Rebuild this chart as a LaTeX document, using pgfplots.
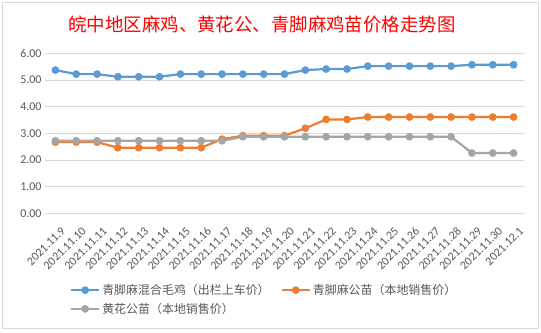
\documentclass[border=0pt]{standalone}
\usepackage{pgfplots}
\pgfplotsset{compat=1.18}
\usepackage{fontspec}
\setmainfont{Carlito}
\newfontfamily\cjk{Noto Sans CJK SC}
\definecolor{cblue}{HTML}{5B9BD5}
\definecolor{corange}{HTML}{ED7D31}
\definecolor{cgray}{HTML}{A5A5A5}
\definecolor{cgrid}{HTML}{D9D9D9}
\definecolor{ctext}{HTML}{595959}
\begin{document}
\begin{tikzpicture}
\path[use as bounding box] (0,0) rectangle (541bp,333bp);
\fill[white] (0,0) rectangle (541bp,333bp);
\draw[cgrid, line width=0.8pt] (2.5bp,4.5bp) rectangle (538.5bp,331bp);
\node[text=red, font=\cjk\fontsize{18.5}{20}\selectfont] at (262bp,308bp) {皖中地区麻鸡、黄花公、青脚麻鸡苗价格走势图};
\begin{axis}[
  at={(45bp,119.7bp)}, anchor=south west,
  scale only axis, width=479bp, height=160bp,
  xmin=-0.5, xmax=22.5, ymin=0, ymax=6,
  axis line style={draw=none},
  major tick length=0pt,
  ytick={0,1,2,3,4,5,6},
  ymajorgrids, grid style={cgrid, line width=0.8pt},
  xtick={0,...,22},
  xticklabels={2021.11.9,2021.11.10,2021.11.11,2021.11.12,2021.11.13,2021.11.14,2021.11.15,2021.11.16,2021.11.17,2021.11.18,2021.11.19,2021.11.20,2021.11.21,2021.11.22,2021.11.23,2021.11.24,2021.11.25,2021.11.26,2021.11.27,2021.11.28,2021.11.29,2021.11.30,2021.12.1},
  xticklabel style={xshift=5bp, yshift=-12bp, rotate=45, anchor=north east, inner sep=0.5pt},
  yticklabel style={/pgf/number format/fixed, /pgf/number format/precision=2, /pgf/number format/fixed zerofill},
  /pgf/number format/assume math mode=true,
  tick label style={font=\fontsize{12}{13}\selectfont, text=ctext},
  clip=false,
  legend columns=2,
  legend cell align=left,
  legend style={at={(0.052,-0.43)}, anchor=north west, draw=none, fill=none, inner sep=0pt,
    font=\cjk\fontsize{12}{14}\selectfont, text=ctext,
    /tikz/every even column/.append style={column sep=9bp},
    row sep=3bp},
  legend image code/.code={\draw[mark repeat=2,mark phase=2,#1] plot coordinates {(0bp,0bp) (14bp,0bp) (28bp,0bp)};},
  every axis plot/.append style={line width=2.2pt, mark=*, mark size=3.6pt},
]
\addplot[cblue, mark options={fill=cblue, draw=cblue, line width=0.5pt}] coordinates {
(0,5.37)(1,5.22)(2,5.22)(3,5.12)(4,5.12)(5,5.12)(6,5.22)(7,5.22)(8,5.22)(9,5.22)(10,5.22)(11,5.22)
(12,5.37)(13,5.41)(14,5.41)(15,5.52)(16,5.52)(17,5.52)(18,5.52)(19,5.52)(20,5.57)(21,5.57)(22,5.57)};
\addlegendentry{青脚麻混合毛鸡（出栏上车价）}
\addplot[corange, mark options={fill=corange, draw=corange, line width=0.5pt}] coordinates {
(0,2.67)(1,2.67)(2,2.67)(3,2.46)(4,2.46)(5,2.46)(6,2.46)(7,2.46)(8,2.78)(9,2.91)(10,2.91)(11,2.91)
(12,3.19)(13,3.52)(14,3.52)(15,3.61)(16,3.61)(17,3.61)(18,3.61)(19,3.61)(20,3.61)(21,3.61)(22,3.61)};
\addlegendentry{青脚麻公苗（本地销售价）}
\addplot[cgray, mark options={fill=cgray, draw=cgray, line width=0.5pt}] coordinates {
(0,2.72)(1,2.72)(2,2.72)(3,2.72)(4,2.72)(5,2.72)(6,2.72)(7,2.72)(8,2.72)(9,2.87)(10,2.87)(11,2.87)
(12,2.87)(13,2.87)(14,2.87)(15,2.87)(16,2.87)(17,2.87)(18,2.87)(19,2.87)(20,2.26)(21,2.26)(22,2.26)};
\addlegendentry{黄花公苗（本地销售价）}
\end{axis}
\end{tikzpicture}
\end{document}
